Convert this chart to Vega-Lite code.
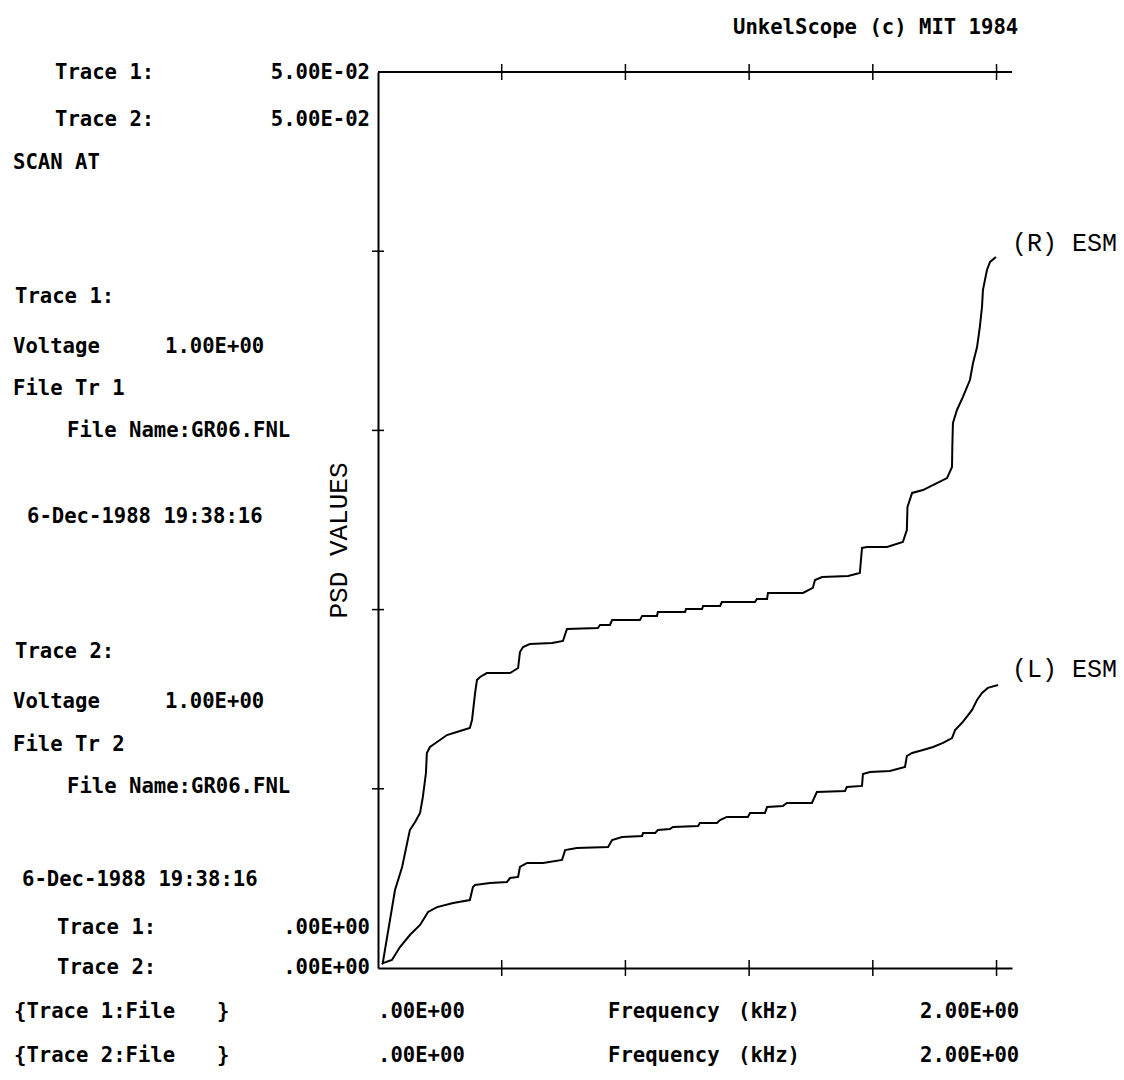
{
  "$schema": "https://vega.github.io/schema/vega-lite/v6.json",
  "width": 634,
  "height": 896,
  "autosize": {"type": "none"},
  "padding": {"left": 378, "top": 72, "right": 112, "bottom": 112},
  "background": "white",
  "config": {
    "view": {"stroke": null},
    "axis": {"grid": false, "ticks": false, "labels": false, "domainColor": "black", "domainWidth": 2},
    "axisX": {"title": null}
  },
  "datasets": {
    "psd": [
      {"trace": "R", "freq": 0.013, "psd": 0.0003},
      {"trace": "R", "freq": 0.016, "psd": 0.000335},
      {"trace": "R", "freq": 0.055, "psd": 0.00435},
      {"trace": "R", "freq": 0.078, "psd": 0.00564},
      {"trace": "R", "freq": 0.103, "psd": 0.0077},
      {"trace": "R", "freq": 0.12, "psd": 0.00815},
      {"trace": "R", "freq": 0.136, "psd": 0.00865},
      {"trace": "R", "freq": 0.145, "psd": 0.00954},
      {"trace": "R", "freq": 0.155, "psd": 0.01088},
      {"trace": "R", "freq": 0.158, "psd": 0.012},
      {"trace": "R", "freq": 0.168, "psd": 0.01233},
      {"trace": "R", "freq": 0.191, "psd": 0.01261},
      {"trace": "R", "freq": 0.223, "psd": 0.013},
      {"trace": "R", "freq": 0.255, "psd": 0.01317},
      {"trace": "R", "freq": 0.297, "psd": 0.01339},
      {"trace": "R", "freq": 0.304, "psd": 0.01384},
      {"trace": "R", "freq": 0.314, "psd": 0.01535},
      {"trace": "R", "freq": 0.32, "psd": 0.01607},
      {"trace": "R", "freq": 0.33, "psd": 0.01624},
      {"trace": "R", "freq": 0.352, "psd": 0.01646},
      {"trace": "R", "freq": 0.427, "psd": 0.01646},
      {"trace": "R", "freq": 0.453, "psd": 0.01674},
      {"trace": "R", "freq": 0.459, "psd": 0.01763},
      {"trace": "R", "freq": 0.469, "psd": 0.01791},
      {"trace": "R", "freq": 0.491, "psd": 0.01808},
      {"trace": "R", "freq": 0.563, "psd": 0.01814},
      {"trace": "R", "freq": 0.598, "psd": 0.01825},
      {"trace": "R", "freq": 0.611, "psd": 0.01892},
      {"trace": "R", "freq": 0.711, "psd": 0.01897},
      {"trace": "R", "freq": 0.718, "psd": 0.01914},
      {"trace": "R", "freq": 0.75, "psd": 0.01914},
      {"trace": "R", "freq": 0.757, "psd": 0.01942},
      {"trace": "R", "freq": 0.847, "psd": 0.01942},
      {"trace": "R", "freq": 0.854, "psd": 0.01964},
      {"trace": "R", "freq": 0.902, "psd": 0.01964},
      {"trace": "R", "freq": 0.905, "psd": 0.01987},
      {"trace": "R", "freq": 0.993, "psd": 0.01987},
      {"trace": "R", "freq": 0.996, "psd": 0.02003},
      {"trace": "R", "freq": 1.048, "psd": 0.02003},
      {"trace": "R", "freq": 1.051, "psd": 0.0202},
      {"trace": "R", "freq": 1.106, "psd": 0.0202},
      {"trace": "R", "freq": 1.112, "psd": 0.02042},
      {"trace": "R", "freq": 1.219, "psd": 0.02042},
      {"trace": "R", "freq": 1.225, "psd": 0.02059},
      {"trace": "R", "freq": 1.258, "psd": 0.02059},
      {"trace": "R", "freq": 1.261, "psd": 0.02093},
      {"trace": "R", "freq": 1.374, "psd": 0.02093},
      {"trace": "R", "freq": 1.406, "psd": 0.02121},
      {"trace": "R", "freq": 1.413, "psd": 0.02165},
      {"trace": "R", "freq": 1.436, "psd": 0.02182},
      {"trace": "R", "freq": 1.52, "psd": 0.02188},
      {"trace": "R", "freq": 1.558, "psd": 0.02204},
      {"trace": "R", "freq": 1.565, "psd": 0.02344},
      {"trace": "R", "freq": 1.581, "psd": 0.02349},
      {"trace": "R", "freq": 1.646, "psd": 0.02349},
      {"trace": "R", "freq": 1.697, "psd": 0.02377},
      {"trace": "R", "freq": 1.71, "psd": 0.02444},
      {"trace": "R", "freq": 1.712, "psd": 0.02573},
      {"trace": "R", "freq": 1.727, "psd": 0.02651},
      {"trace": "R", "freq": 1.762, "psd": 0.02667},
      {"trace": "R", "freq": 1.807, "psd": 0.02706},
      {"trace": "R", "freq": 1.84, "psd": 0.02734},
      {"trace": "R", "freq": 1.856, "psd": 0.02796},
      {"trace": "R", "freq": 1.857, "psd": 0.02907},
      {"trace": "R", "freq": 1.859, "psd": 0.03041},
      {"trace": "R", "freq": 1.872, "psd": 0.03114},
      {"trace": "R", "freq": 1.891, "psd": 0.03186},
      {"trace": "R", "freq": 1.914, "psd": 0.03281},
      {"trace": "R", "freq": 1.924, "psd": 0.03376},
      {"trace": "R", "freq": 1.937, "psd": 0.03465},
      {"trace": "R", "freq": 1.946, "psd": 0.03577},
      {"trace": "R", "freq": 1.953, "psd": 0.03689},
      {"trace": "R", "freq": 1.956, "psd": 0.03783},
      {"trace": "R", "freq": 1.969, "psd": 0.03895},
      {"trace": "R", "freq": 1.979, "psd": 0.0394},
      {"trace": "R", "freq": 1.998, "psd": 0.03968},
      {"trace": "L", "freq": 0.013, "psd": 0.0002},
      {"trace": "L", "freq": 0.016, "psd": 0.00028},
      {"trace": "L", "freq": 0.045, "psd": 0.00045},
      {"trace": "L", "freq": 0.071, "psd": 0.00117},
      {"trace": "L", "freq": 0.103, "psd": 0.00184},
      {"trace": "L", "freq": 0.136, "psd": 0.0024},
      {"trace": "L", "freq": 0.162, "psd": 0.00313},
      {"trace": "L", "freq": 0.191, "psd": 0.0034},
      {"trace": "L", "freq": 0.243, "psd": 0.00363},
      {"trace": "L", "freq": 0.297, "psd": 0.00379},
      {"trace": "L", "freq": 0.307, "psd": 0.00452},
      {"trace": "L", "freq": 0.314, "psd": 0.00463},
      {"trace": "L", "freq": 0.362, "psd": 0.00474},
      {"trace": "L", "freq": 0.417, "psd": 0.0048},
      {"trace": "L", "freq": 0.427, "psd": 0.00502},
      {"trace": "L", "freq": 0.453, "psd": 0.00508},
      {"trace": "L", "freq": 0.459, "psd": 0.00564},
      {"trace": "L", "freq": 0.482, "psd": 0.00586},
      {"trace": "L", "freq": 0.534, "psd": 0.00586},
      {"trace": "L", "freq": 0.595, "psd": 0.00603},
      {"trace": "L", "freq": 0.605, "psd": 0.00658},
      {"trace": "L", "freq": 0.643, "psd": 0.0067},
      {"trace": "L", "freq": 0.744, "psd": 0.00675},
      {"trace": "L", "freq": 0.757, "psd": 0.00714},
      {"trace": "L", "freq": 0.789, "psd": 0.00731},
      {"trace": "L", "freq": 0.854, "psd": 0.00737},
      {"trace": "L", "freq": 0.857, "psd": 0.00753},
      {"trace": "L", "freq": 0.896, "psd": 0.00753},
      {"trace": "L", "freq": 0.905, "psd": 0.0077},
      {"trace": "L", "freq": 0.944, "psd": 0.00776},
      {"trace": "L", "freq": 0.954, "psd": 0.00787},
      {"trace": "L", "freq": 1.035, "psd": 0.00792},
      {"trace": "L", "freq": 1.041, "psd": 0.00809},
      {"trace": "L", "freq": 1.096, "psd": 0.00809},
      {"trace": "L", "freq": 1.106, "psd": 0.00826},
      {"trace": "L", "freq": 1.128, "psd": 0.00843},
      {"trace": "L", "freq": 1.196, "psd": 0.00843},
      {"trace": "L", "freq": 1.203, "psd": 0.00865},
      {"trace": "L", "freq": 1.251, "psd": 0.00865},
      {"trace": "L", "freq": 1.258, "psd": 0.00898},
      {"trace": "L", "freq": 1.309, "psd": 0.00904},
      {"trace": "L", "freq": 1.322, "psd": 0.00921},
      {"trace": "L", "freq": 1.403, "psd": 0.00921},
      {"trace": "L", "freq": 1.419, "psd": 0.00982},
      {"trace": "L", "freq": 1.51, "psd": 0.00988},
      {"trace": "L", "freq": 1.516, "psd": 0.0101},
      {"trace": "L", "freq": 1.565, "psd": 0.01016},
      {"trace": "L", "freq": 1.568, "psd": 0.01083},
      {"trace": "L", "freq": 1.591, "psd": 0.01094},
      {"trace": "L", "freq": 1.655, "psd": 0.01099},
      {"trace": "L", "freq": 1.704, "psd": 0.01122},
      {"trace": "L", "freq": 1.71, "psd": 0.01183},
      {"trace": "L", "freq": 1.727, "psd": 0.012},
      {"trace": "L", "freq": 1.762, "psd": 0.01217},
      {"trace": "L", "freq": 1.795, "psd": 0.01233},
      {"trace": "L", "freq": 1.827, "psd": 0.01256},
      {"trace": "L", "freq": 1.856, "psd": 0.01283},
      {"trace": "L", "freq": 1.866, "psd": 0.01328},
      {"trace": "L", "freq": 1.891, "psd": 0.01373},
      {"trace": "L", "freq": 1.921, "psd": 0.0144},
      {"trace": "L", "freq": 1.937, "psd": 0.01496},
      {"trace": "L", "freq": 1.953, "psd": 0.01535},
      {"trace": "L", "freq": 1.972, "psd": 0.01563},
      {"trace": "L", "freq": 2.005, "psd": 0.01579}
    ],
    "xticks": [
      {"freq": 0.4, "psd": 0}, {"freq": 0.8, "psd": 0}, {"freq": 1.2, "psd": 0}, {"freq": 1.6, "psd": 0}, {"freq": 2.0, "psd": 0},
      {"freq": 0.4, "psd": 0.05}, {"freq": 0.8, "psd": 0.05}, {"freq": 1.2, "psd": 0.05}, {"freq": 1.6, "psd": 0.05}, {"freq": 2.0, "psd": 0.05}
    ],
    "yticks": [
      {"freq": 0, "psd": 0.01}, {"freq": 0, "psd": 0.02}, {"freq": 0, "psd": 0.03}, {"freq": 0, "psd": 0.04}
    ],
    "textLeft": [
      {"label": "UnkelScope (c) MIT 1984", "freq": 1.1479, "psd": 0.05248},
      {"label": "Trace 1:", "freq": -1.0444, "psd": 0.04992},
      {"label": "Trace 2:", "freq": -1.0444, "psd": 0.04732},
      {"label": "SCAN AT", "freq": -1.1802, "psd": 0.04492},
      {"label": "Trace 1:", "freq": -1.1737, "psd": 0.03744},
      {"label": "Voltage", "freq": -1.1802, "psd": 0.03465},
      {"label": "1.00E+00", "freq": -0.6887, "psd": 0.03465},
      {"label": "File Tr 1", "freq": -1.1802, "psd": 0.03231},
      {"label": "File Name:GR06.FNL", "freq": -1.0056, "psd": 0.02997},
      {"label": "6-Dec-1988 19:38:16", "freq": -1.1349, "psd": 0.02517},
      {"label": "Trace 2:", "freq": -1.1737, "psd": 0.01763},
      {"label": "Voltage", "freq": -1.1802, "psd": 0.01484},
      {"label": "1.00E+00", "freq": -0.6887, "psd": 0.01484},
      {"label": "File Tr 2", "freq": -1.1802, "psd": 0.01244},
      {"label": "File Name:GR06.FNL", "freq": -1.0056, "psd": 0.0101},
      {"label": "6-Dec-1988 19:38:16", "freq": -1.1511, "psd": 0.00491},
      {"label": "Trace 1:", "freq": -1.0379, "psd": 0.00223},
      {"label": "Trace 2:", "freq": -1.0379, "psd": 0},
      {"label": "{Trace 1:File", "freq": -1.177, "psd": -0.002455},
      {"label": "}", "freq": -0.5206, "psd": -0.002455},
      {"label": ".00E+00", "freq": 0.0, "psd": -0.002455},
      {"label": "Frequency", "freq": 0.7437, "psd": -0.002455},
      {"label": "(kHz)", "freq": 1.164, "psd": -0.002455},
      {"label": "2.00E+00", "freq": 1.7525, "psd": -0.002455},
      {"label": "{Trace 2:File", "freq": -1.177, "psd": -0.00491},
      {"label": "}", "freq": -0.5206, "psd": -0.00491},
      {"label": ".00E+00", "freq": 0.0, "psd": -0.00491},
      {"label": "Frequency", "freq": 0.7437, "psd": -0.00491},
      {"label": "(kHz)", "freq": 1.164, "psd": -0.00491},
      {"label": "2.00E+00", "freq": 1.7525, "psd": -0.00491}
    ],
    "textRight": [
      {"label": "5.00E-02", "freq": -0.0259, "psd": 0.04992},
      {"label": "5.00E-02", "freq": -0.0259, "psd": 0.04732},
      {"label": ".00E+00", "freq": -0.0259, "psd": 0.00223},
      {"label": ".00E+00", "freq": -0.0259, "psd": 0}
    ],
    "curveLabels": [
      {"label": "(R) ESM", "freq": 2.05, "psd": 0.04043},
      {"label": "(L) ESM", "freq": 2.05, "psd": 0.01671}
    ]
  },
  "layer": [
    {
      "data": {"name": "psd"},
      "mark": {"type": "line", "color": "black", "strokeWidth": 2},
      "encoding": {
        "x": {"field": "freq", "type": "quantitative", "scale": {"domain": [0, 2.05], "nice": false, "zero": false},
              "axis": {"orient": "bottom", "domain": true, "ticks": false, "labels": false, "title": null}},
        "y": {"field": "psd", "type": "quantitative", "scale": {"domain": [0, 0.05], "nice": false, "zero": false},
              "axis": {"orient": "left", "domain": true, "ticks": false, "labels": false, "title": "PSD VALUES",
                       "titleFont": "Liberation Mono", "titleFontSize": 26, "titleFontWeight": "normal", "titleColor": "black",
                       "titleAngle": 270, "titleX": -40, "titleY": 468, "titleAlign": "center", "titleBaseline": "middle"}},
        "detail": {"field": "trace"}
      }
    },
    {
      "data": {"values": [{}]},
      "mark": {"type": "rule", "color": "black", "strokeWidth": 2},
      "encoding": {"y": {"datum": 0.05, "type": "quantitative"}}
    },
    {
      "data": {"name": "xticks"},
      "mark": {"type": "tick", "orient": "vertical", "color": "black", "opacity": 1, "size": 16, "thickness": 1.5},
      "encoding": {
        "x": {"field": "freq", "type": "quantitative"},
        "y": {"field": "psd", "type": "quantitative"}
      }
    },
    {
      "data": {"name": "yticks"},
      "mark": {"type": "tick", "orient": "horizontal", "color": "black", "opacity": 1, "size": 12, "thickness": 1.5},
      "encoding": {
        "x": {"field": "freq", "type": "quantitative"},
        "y": {"field": "psd", "type": "quantitative"}
      }
    },
    {
      "data": {"name": "textLeft"},
      "mark": {"type": "text", "align": "left", "baseline": "middle", "font": "DejaVu Sans Mono", "fontSize": 20.6, "fontWeight": "bold", "color": "black", "clip": false},
      "encoding": {
        "x": {"field": "freq", "type": "quantitative"},
        "y": {"field": "psd", "type": "quantitative"},
        "text": {"field": "label"}
      }
    },
    {
      "data": {"name": "textRight"},
      "mark": {"type": "text", "align": "right", "baseline": "middle", "font": "DejaVu Sans Mono", "fontSize": 20.6, "fontWeight": "bold", "color": "black", "clip": false},
      "encoding": {
        "x": {"field": "freq", "type": "quantitative"},
        "y": {"field": "psd", "type": "quantitative"},
        "text": {"field": "label"}
      }
    },
    {
      "data": {"name": "curveLabels"},
      "mark": {"type": "text", "align": "left", "baseline": "middle", "font": "Liberation Mono", "fontSize": 25, "color": "black", "clip": false},
      "encoding": {
        "x": {"field": "freq", "type": "quantitative"},
        "y": {"field": "psd", "type": "quantitative"},
        "text": {"field": "label"}
      }
    }
  ]
}
